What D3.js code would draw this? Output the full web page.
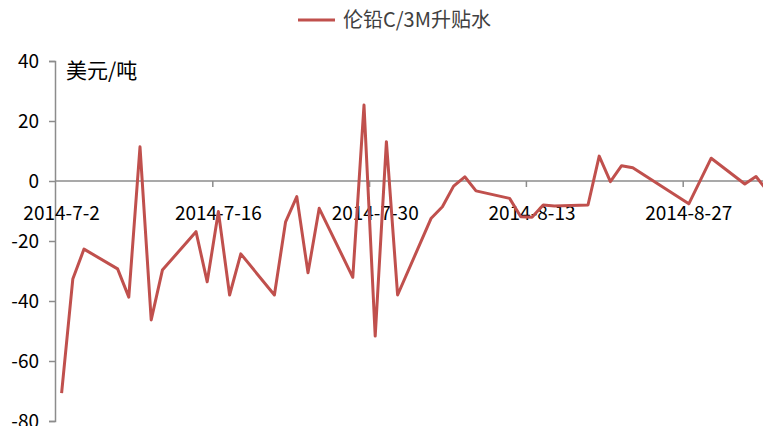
<!DOCTYPE html>
<meta charset="utf-8">
<style>
  body { margin: 0; background: #fff; }
  text { font-family: "Microsoft YaHei", "Noto Sans CJK SC", sans-serif; }
</style>
<svg width="763" height="426"></svg>
<script src="https://d3js.org/d3.v7.min.js"></script>
<script>

var dates = ["2014-07-02","2014-07-03","2014-07-04","2014-07-07","2014-07-08","2014-07-09","2014-07-10","2014-07-11",
  "2014-07-14","2014-07-15","2014-07-16","2014-07-17","2014-07-18","2014-07-21","2014-07-22","2014-07-23","2014-07-24",
  "2014-07-25","2014-07-28","2014-07-29","2014-07-30","2014-07-31","2014-08-01","2014-08-04","2014-08-05","2014-08-06",
  "2014-08-07","2014-08-08","2014-08-11","2014-08-12","2014-08-13","2014-08-14","2014-08-15","2014-08-18","2014-08-19",
  "2014-08-20","2014-08-21","2014-08-22","2014-08-27","2014-08-29","2014-09-01","2014-09-02","2014-09-03"];
var values = [-70.7,-32.7,-22.7,-29.3,-38.7,11.4,-46.3,-29.7,
  -16.9,-33.6,-10.2,-38,-24.3,-38,-13.6,-5.2,-30.6,
  -9.1,-32.1,25.3,-51.7,13.1,-38,-12.4,-8.6,-1.7,
  1.4,-3.3,-5.8,-11.9,-12.1,-8,-8.3,-8,8.3,
  -0.2,5.1,4.4,-7.6,7.6,-1,1.5,-3.2];
var tickDates = ["2014-07-02","2014-07-16","2014-07-30","2014-08-13","2014-08-27"];
var yTicks = [-80, -60, -40, -20, 0, 20, 40];
var seriesName = "伦铅C/3M升贴水";
var unit = "美元/吨";

var parse = d3.utcParse("%Y-%m-%d");
var fmt = d3.utcFormat("%Y-%-m-%-d");
var halfDay = 12 * 3600 * 1000;

var data = dates.map(function(d, i) { return {date: parse(d), value: values[i]}; });

var svg = d3.select("svg");
var axisColor = "#8c8c8c";

var x = d3.scaleUtc()
    .domain([parse("2014-07-02"), parse("2014-09-04")])
    .range([56, 56 + 64 * 11.2]);

var y = d3.scaleLinear()
    .domain([-80, 40])
    .range([421, 61]);

// y axis
var yAxis = svg.append("g")
    .attr("transform", "translate(55,0)")
    .call(d3.axisLeft(y).tickValues(yTicks).tickSize(6)
      .tickFormat(function(d) { return String(d); }));
yAxis.select(".domain").attr("stroke", axisColor).attr("stroke-width", 1.5);
yAxis.selectAll(".tick line").attr("stroke", axisColor).attr("stroke-width", 1.5);
yAxis.selectAll(".tick text")
    .attr("fill", "#000")
    .style("font-size", "19px")
    .attr("x", -16);

// zero line with date ticks
svg.append("line")
    .attr("x1", 55).attr("x2", 763)
    .attr("y1", y(0)).attr("y2", y(0))
    .attr("stroke", axisColor).attr("stroke-width", 1.5);

svg.append("g").selectAll("line")
  .data(tickDates.slice(1))
  .enter().append("line")
    .attr("x1", function(d) { return x(parse(d)); })
    .attr("x2", function(d) { return x(parse(d)); })
    .attr("y1", y(0))
    .attr("y2", y(0) + 6)
    .attr("stroke", axisColor).attr("stroke-width", 1.5);

svg.append("g").selectAll("text")
  .data(tickDates)
  .enter().append("text")
    .attr("x", function(d) { return x(new Date(+parse(d) + halfDay)); })
    .attr("y", 220)
    .attr("text-anchor", "middle")
    .style("font-size", "19px")
    .attr("fill", "#000")
    .text(function(d) { return fmt(parse(d)); });

// line
var line = d3.line()
    .x(function(d) { return x(new Date(+d.date + halfDay)); })
    .y(function(d) { return y(d.value); });

svg.append("path")
    .datum(data)
    .attr("fill", "none")
    .attr("stroke", "#C0504D")
    .attr("stroke-width", 3)
    .attr("stroke-linejoin", "round")
    .attr("d", line);

// unit label
svg.append("text")
    .attr("x", 66)
    .attr("y", 78)
    .style("font-size", "21px")
    .attr("fill", "#000")
    .text(unit);

// legend
svg.append("line")
    .attr("x1", 298).attr("x2", 335)
    .attr("y1", 20).attr("y2", 20)
    .attr("stroke", "#C0504D").attr("stroke-width", 3);
svg.append("text")
    .attr("x", 343)
    .attr("y", 27)
    .style("font-size", "20px")
    .attr("fill", "#404040")
    .text(seriesName);

</script>
